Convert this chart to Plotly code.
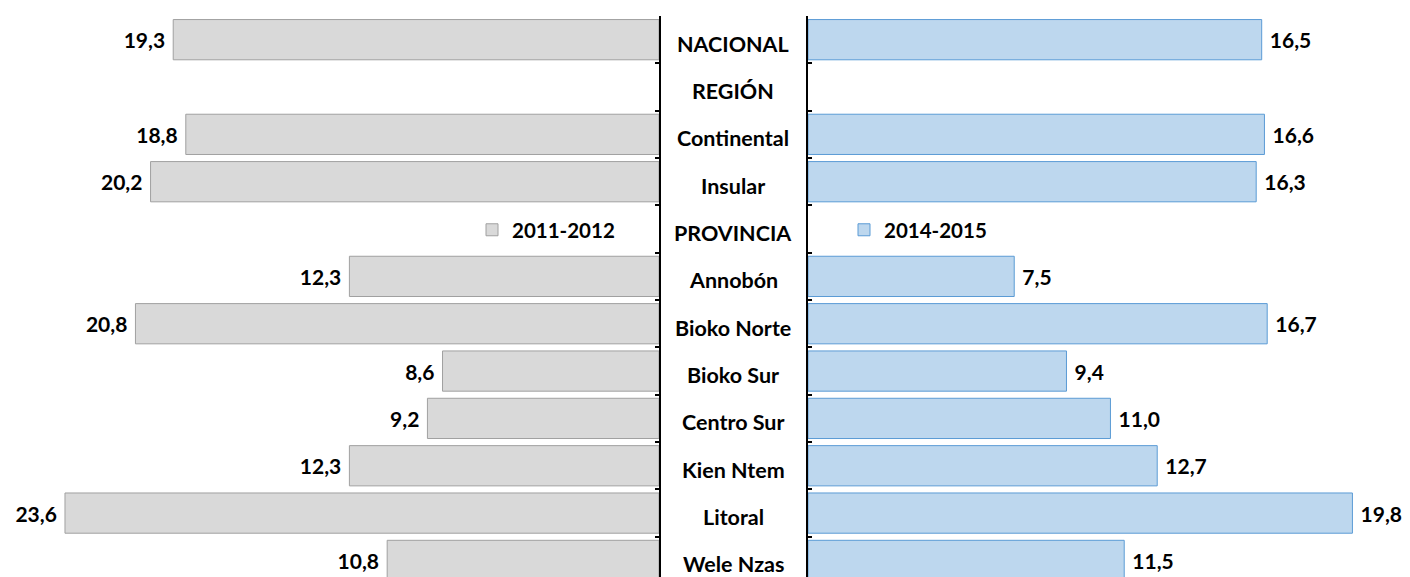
import plotly.graph_objects as go

categories = ['NACIONAL', 'REGIÓN', 'Continental', 'Insular', 'PROVINCIA', 'Annobón',
              'Bioko Norte', 'Bioko Sur', 'Centro Sur', 'Kien Ntem', 'Litoral', 'Wele Nzas']
v2011 = [19.3, None, 18.8, 20.2, None, 12.3, 20.8, 8.6, 9.2, 12.3, 23.6, 10.8]
v2014 = [16.5, None, 16.6, 16.3, None, 7.5, 16.7, 9.4, 11.0, 12.7, 19.8, 11.5]

FONT = 'Lato'
FS = 21
NB = '\u00a0'

# page body has an 8px margin, so the figure is a bit smaller than the window
W, H = 1402, 569

fig = go.Figure()

fig.add_trace(go.Bar(
    name='2011-2012', y=categories, x=v2011, orientation='h',
    xaxis='x', yaxis='y', legend='legend', showlegend=True,
    marker=dict(color='#d9d9d9', line=dict(color='#a0a0a0', width=1)),
    texttemplate='%{x:.1f}' + NB, textposition='outside', cliponaxis=False,
    textfont=dict(family=FONT, size=FS, color='black', weight='bold'),
))
fig.add_trace(go.Bar(
    name='2014-2015', y=categories, x=v2014, orientation='h',
    xaxis='x2', yaxis='y2', legend='legend2', showlegend=True,
    marker=dict(color='#bdd7ee', line=dict(color='#5b9bd5', width=1)),
    texttemplate=NB + '%{x:.1f}', textposition='outside', cliponaxis=False,
    textfont=dict(family=FONT, size=FS, color='black', weight='bold'),
))

# center labels
for c in categories:
    fig.add_annotation(x=725 / W, xref='paper', y=c, yref='y', text=c, showarrow=False,
                       yshift=-4, font=dict(family=FONT, size=21.5, color='black', weight='bold'))

yax = dict(type='category', categoryorder='array', categoryarray=categories,
           showgrid=False, zeroline=False, showticklabels=False,
           showline=True, linecolor='black', linewidth=2,
           ticks='inside', ticklen=4, tickwidth=1.5, tickcolor='black', tickson='boundaries')

fig.update_layout(
    width=W, height=H,
    margin=dict(l=0, r=0, t=8, b=0),
    plot_bgcolor='white', paper_bgcolor='white',
    separators=',.',
    bargap=0.15,
    showlegend=True,
    font=dict(family=FONT, size=FS, color='black'),
    xaxis=dict(domain=[1.6 / W, 651 / W], range=[25.8, 0], visible=False),
    xaxis2=dict(domain=[800 / W, 1392 / W], range=[0, 21.53], visible=False),
    yaxis=dict(anchor='x', side='right', range=[11.35, -0.5], **yax),
    yaxis2=dict(anchor='x2', side='left', matches='y', **yax),
    legend=dict(x=464 / W, y=1 - 217 / H, xanchor='left', yanchor='middle',
                font=dict(family=FONT, size=20.5, weight='bold'), bgcolor='rgba(0,0,0,0)'),
    legend2=dict(x=836 / W, y=1 - 217 / H, xanchor='left', yanchor='middle',
                 font=dict(family=FONT, size=20.5, weight='bold'), bgcolor='rgba(0,0,0,0)'),
)

fig.write_html('out.html')
